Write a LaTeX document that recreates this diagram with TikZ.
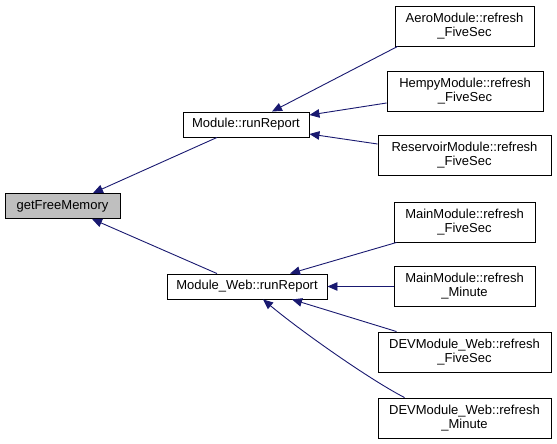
\documentclass[tikz,border=0pt]{standalone}
\usepackage{fontspec}
\setmainfont{Liberation Sans}
\usetikzlibrary{arrows.meta}
\definecolor{edgecol}{HTML}{191970}
\definecolor{hlfill}{HTML}{BFBFBF}
\tikzset{
  fn/.style={draw=black, line width=0.9pt, fill=white, inner sep=0pt, align=center,
    font=\fontsize{13}{14}\selectfont, minimum height=25pt},
  fn2/.style={fn, minimum height=40pt},
  edge/.style={draw=edgecol, line width=0.9pt, -{Triangle[length=10pt,width=8.5pt]}}
}
\begin{document}
\begin{tikzpicture}[x=1pt,y=-1pt]
\useasboundingbox (0,0) rectangle (557,444);
\node[fn, fill=hlfill, minimum width=115pt] (gfm) at (62.5,206) {getFreeMemory};
\node[fn, minimum width=126pt] (mrr) at (246,124.5) {Module::runReport};
\node[fn, minimum width=160pt] (wrr) at (247,286.5) {Module\_Web::runReport};
\node[fn2, minimum width=139pt] (aero) at (464.5,26) {AeroModule::refresh\\\_FiveSec};
\node[fn2, minimum width=156pt] (hempy) at (465,91) {HempyModule::refresh\\\_FiveSec};
\node[fn2, minimum width=173pt] (res) at (464.5,155) {ReservoirModule::refresh\\\_FiveSec};
\node[fn2, minimum width=141pt] (mfive) at (464.5,222) {MainModule::refresh\\\_FiveSec};
\node[fn2, minimum width=141pt] (mmin) at (464.5,286.5) {MainModule::refresh\\\_Minute};
\node[fn2, minimum width=173pt] (dfive) at (464.5,352) {DEVModule\_Web::refresh\\\_FiveSec};
\node[fn2, minimum width=173pt] (dmin) at (464.5,418) {DEVModule\_Web::refresh\\\_Minute};

\draw[edge] ([xshift=-29pt]mrr.south) -- ([xshift=30.5pt]gfm.north);
\draw[edge] ([xshift=-30pt]wrr.north) -- ([xshift=29.5pt]gfm.south);
\draw[edge] ([xshift=3pt]aero.south west) -- ([xshift=26pt]mrr.north);
\draw[edge] ([yshift=-12pt]hempy.west) -- ([yshift=9.5pt]mrr.east);
\draw[edge] ([yshift=11pt]res.west) -- ([yshift=-9.5pt]mrr.east);
\draw[edge] ([xshift=3pt]mfive.south west) -- ([xshift=43pt]wrr.north);
\draw[edge] (mmin.west) -- (wrr.east);
\draw[edge] ([xshift=19pt]dfive.north west) -- ([xshift=45pt]wrr.south);
\draw[edge] ([xshift=27pt]dmin.north west) .. controls +(-35,-18) and +(37,31) .. ([xshift=16pt]wrr.south);
\end{tikzpicture}
\end{document}
